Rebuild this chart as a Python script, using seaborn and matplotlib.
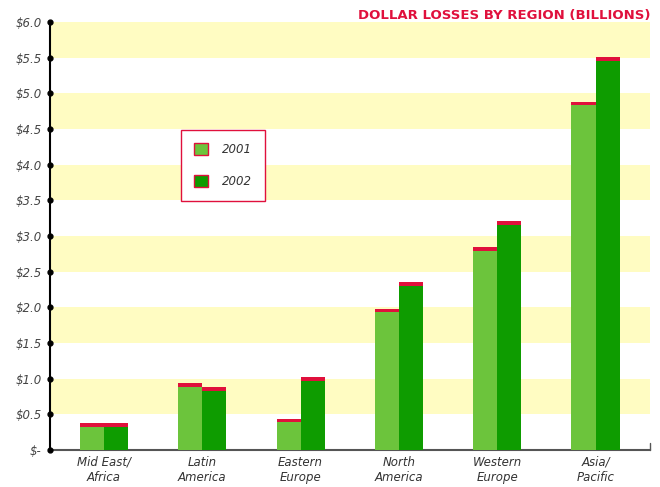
import pandas as pd
import matplotlib.pyplot as plt
import seaborn as sns
from matplotlib.patches import Patch

# values (billions of dollars)
regions = ["Mid East/\nAfrica", "Latin\nAmerica", "Eastern\nEurope",
           "North\nAmerica", "Western\nEurope", "Asia/\nPacific"]
years = ["2001", "2002"]
loss_2001 = [0.375, 0.94, 0.44, 1.98, 2.84, 4.88]
loss_2002 = [0.375, 0.88, 1.02, 2.35, 3.21, 5.51]
cap = 0.05

df = pd.DataFrame({
    "region": regions * 2,
    "year": ["2001"] * 6 + ["2002"] * 6,
    "value": loss_2001 + loss_2002,
})
df["body"] = df["value"] - cap

sns.set_theme(style="white")
plt.rcParams["font.family"] = ["DejaVu Sans"]

fig = plt.figure(figsize=(6.6, 4.87), dpi=100)
ax = fig.add_axes([50 / 660, 37 / 487, 600 / 660, 428 / 487])

# yellow background bands
for lo in [0.5, 1.5, 2.5, 3.5, 4.5, 5.5]:
    ax.axhspan(lo, lo + 0.5, color="#fffcc2", zorder=0, lw=0)

# red caps (full height), then green bodies on top
sns.barplot(data=df, x="region", y="value", hue="year", ax=ax,
            palette={"2001": "#e0103c", "2002": "#e0103c"},
            width=0.49, gap=0, legend=False, saturation=1, zorder=2)
sns.barplot(data=df, x="region", y="body", hue="year", ax=ax,
            palette={"2001": "#6cc43c", "2002": "#0e9c00"},
            width=0.49, gap=0, legend=False, saturation=1, zorder=3)
for p in ax.patches:
    p.set_linewidth(0)

ax.set_xlim(-0.549, 5.554)
ax.set_ylim(0, 6.0)
ax.set_yticks([i * 0.5 for i in range(13)])
ax.set_yticklabels(["$-"] + [f"${i * 0.5:.1f}" for i in range(1, 13)],
                   fontstyle="italic", color="#444444", fontsize=8.5)
ax.tick_params(axis="x", length=0, pad=4, labelsize=8.5, labelcolor="#333333")
for t in ax.get_xticklabels():
    t.set_fontstyle("italic")
ax.tick_params(axis="y", length=0, pad=6)
ax.set_xlabel("")
ax.set_ylabel("")

for s in ["top", "right"]:
    ax.spines[s].set_visible(False)
ax.spines["left"].set_color("black")
ax.spines["left"].set_linewidth(1.5)
ax.spines["bottom"].set_color("#555555")
ax.spines["bottom"].set_linewidth(1.5)

# dot markers on the y axis
ax.plot([0.0] * 13, [i * 0.5 for i in range(13)], "o", color="black", ms=3.5,
        transform=ax.get_yaxis_transform(), clip_on=False, zorder=5)
ax.plot([1.0, 1.0], [0, 0.016], color="#555555", lw=1,
        transform=ax.transAxes, clip_on=False)

handles = [Patch(facecolor="#6cc43c", edgecolor="#e0103c", label="2001"),
           Patch(facecolor="#0e9c00", edgecolor="#e0103c", label="2002")]
leg = ax.legend(handles=handles, loc="center", bbox_to_anchor=(0.288, 0.664),
                frameon=True, fancybox=False, framealpha=1, borderpad=1.1,
                labelspacing=1.6, handlelength=1.2, handleheight=1.2,
                handletextpad=1.2, borderaxespad=0, prop={"style": "italic", "size": 8.5})
leg.get_frame().set_edgecolor("#e0103c")
leg.get_frame().set_linewidth(1)
for t in leg.get_texts():
    t.set_color("#333333")

fig.text(650 / 660, 1 - 16 / 487, "DOLLAR LOSSES BY REGION (BILLIONS)",
         ha="right", va="center", color="#e0103c", fontweight="bold", fontsize=9.5)

plt.savefig("out.png", dpi=100)
